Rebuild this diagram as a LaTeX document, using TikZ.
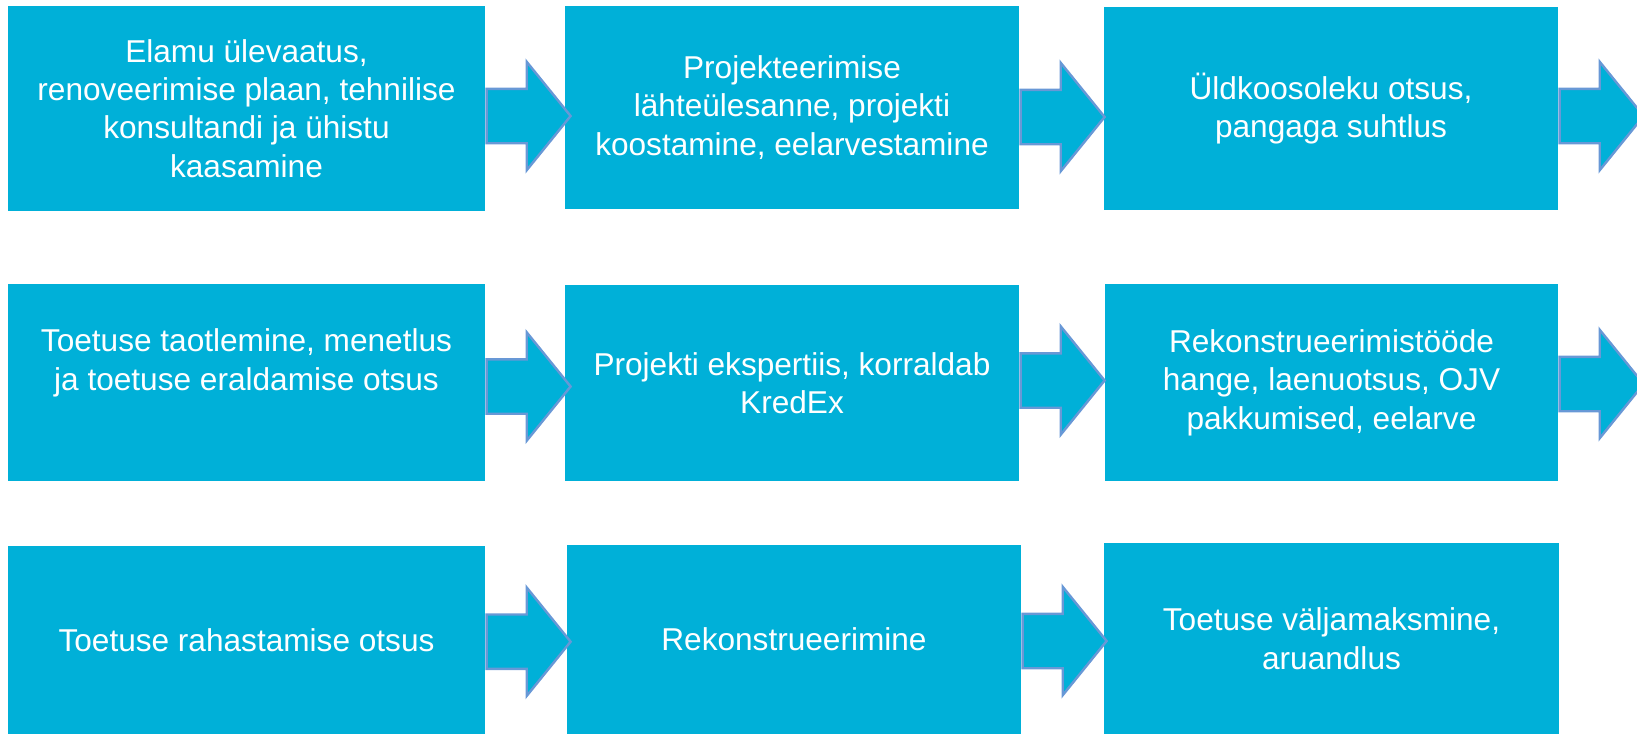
\documentclass[tikz,border=0pt]{standalone}
\usepackage{fontspec}
\setmainfont{Liberation Sans}
\usetikzlibrary{shapes.arrows}
\definecolor{boxblue}{RGB}{0,176,216}
\definecolor{arrowblue}{RGB}{104,152,214}
\newcommand\boxfont{\fontsize{15.8pt}{19.2pt}\selectfont}
\begin{document}
\begin{tikzpicture}[x=0.5pt, y=-0.5pt,
    box/.style={fill=boxblue, text=white, inner sep=0pt, align=center, font=\boxfont},
    blockarrow/.style={single arrow, fill=boxblue, draw=arrowblue, line width=1.2pt,
      minimum height=42pt, inner xsep=0pt, inner ysep=13pt, single arrow head extend=13.5pt,
      single arrow tip angle=102, anchor=tail}]
  \useasboundingbox (0,0) rectangle (1637,734);
  % boxes: number/left/top/right/bottom/text
  \foreach \n/\l/\t/\r/\b/\txt in {
      1/8/6/485/211/{Elamu ülevaatus,\\renoveerimise plaan, tehnilise\\konsultandi ja ühistu\\kaasamine},
      2/565/6/1019/209/{Projekteerimise\\lähteülesanne, projekti\\koostamine, eelarvestamine},
      3/1104/7/1558/210/{Üldkoosoleku otsus,\\pangaga suhtlus},
      4/8/284/485/481/{Toetuse taotlemine, menetlus\\ja toetuse eraldamise otsus\rule[-23pt]{0pt}{23pt}},
      5/565/285/1019/481/{Projekti ekspertiis, korraldab\\KredEx},
      6/1105/284/1558/481/{Rekonstrueerimistööde\\hange, laenuotsus, OJV\\pakkumised, eelarve},
      7/8/546/485/734/{Toetuse rahastamise otsus},
      8/567/545/1021/734/{Rekonstrueerimine},
      9/1104/543/1559/734/{Toetuse väljamaksmine,\\aruandlus}}{
    \node[box, minimum width={(\r-\l)*0.5pt}, minimum height={(\b-\t)*0.5pt}]
      (B\n) at ({(\l+\r)/2},{(\t+\b)/2}) {\txt};
  }
  % arrows: after box/shift down (px)
  \foreach \a/\dy in {1/7.5, 2/9.5, 3/7.5, 4/4, 5/-2.5, 6/1.5, 7/1.7, 8/1.5}{
    \node[blockarrow] (A\a) at ([yshift=-\dy*0.5pt]B\a.east) {};
  }
\end{tikzpicture}
\end{document}
